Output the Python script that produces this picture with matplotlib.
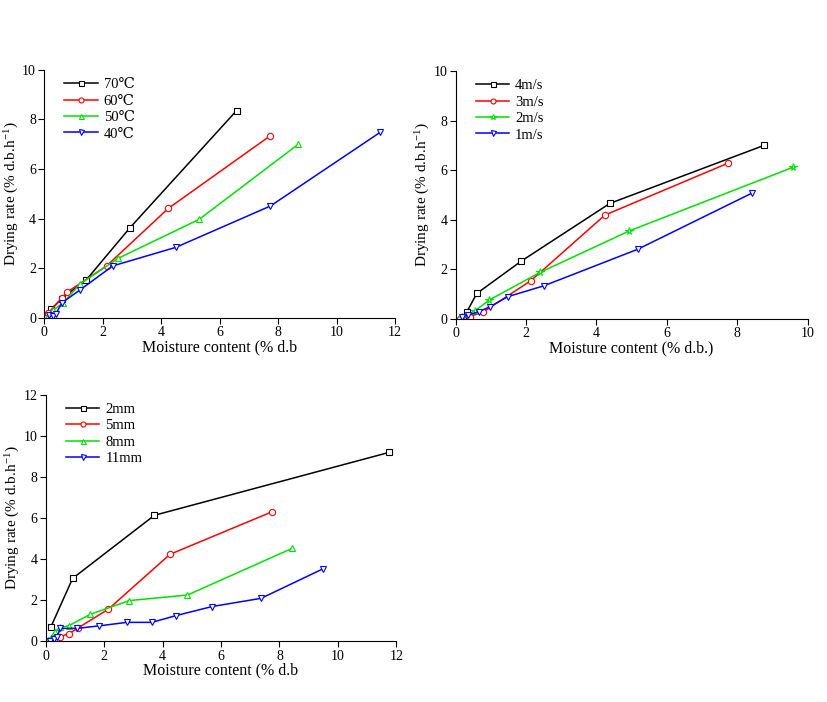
import numpy as np
import matplotlib
matplotlib.use("Agg")
import matplotlib.pyplot as plt

plt.rcParams['font.family'] = ['Liberation Serif', 'DejaVu Serif', 'DejaVu Sans']
plt.rcParams['mathtext.fontset'] = 'stix'

# temperature series (moisture content, drying rate)
temp_labels = ['70℃', '60℃', '50℃', '40℃']
t70_x = [0.05, 0.23, 0.59, 1.43, 2.93, 6.58]
t70_y = [0.0, 0.34, 0.77, 1.52, 3.63, 8.36]
t60_x = [0.05, 0.14, 0.60, 0.76, 2.13, 4.24, 7.74]
t60_y = [0.0, 0.20, 0.78, 1.02, 2.09, 4.41, 7.35]
t50_x = [0.08, 0.31, 0.65, 1.22, 2.53, 5.30, 8.69]
t50_y = [0.0, 0.31, 0.60, 1.36, 2.40, 3.97, 7.00]
t40_x = [0.17, 0.30, 0.40, 0.60, 1.22, 2.34, 4.50, 7.74, 11.49]
t40_y = [0.10, 0.08, 0.17, 0.60, 1.12, 2.09, 2.84, 4.51, 7.48]

# air velocity series
vel_labels = ['4m/s', '3m/s', '2m/s', '1m/s']
v4_x = [0.20, 0.31, 0.60, 1.86, 4.38, 8.76]
v4_y = [0.05, 0.27, 1.03, 2.33, 4.66, 7.00]
v3_x = [0.12, 0.40, 0.77, 2.14, 4.24, 7.75]
v3_y = [0.0, 0.10, 0.27, 1.55, 4.19, 6.29]
v2_x = [0.17, 0.55, 0.96, 2.40, 4.93, 9.59]
v2_y = [0.07, 0.33, 0.77, 1.88, 3.55, 6.12]
v1_x = [0.17, 0.35, 0.67, 0.98, 1.48, 2.51, 5.17, 8.41]
v1_y = [0.10, 0.15, 0.30, 0.50, 0.90, 1.34, 2.81, 5.07]

# slice thickness series
thk_labels = ['2mm', '5mm', '8mm', '11mm']
d2_x = [0.18, 0.92, 3.72, 11.75]
d2_y = [0.71, 3.06, 6.13, 9.19]
d5_x = [0.09, 0.49, 0.78, 1.12, 2.14, 4.25, 7.76]
d5_y = [0.0, 0.23, 0.36, 0.66, 1.56, 4.23, 6.31]
d8_x = [0.09, 0.32, 0.49, 0.78, 1.52, 2.86, 4.85, 8.43]
d8_y = [0.06, 0.47, 0.68, 0.75, 1.31, 1.98, 2.25, 4.52]
d11_x = [0.15, 0.30, 0.40, 0.49, 1.08, 1.83, 2.77, 3.63, 4.46, 5.69, 7.37, 9.48]
d11_y = [0.0, 0.10, 0.23, 0.63, 0.63, 0.75, 0.92, 0.92, 1.25, 1.69, 2.09, 3.52]

colors = ['black', 'red', '#00e000', 'blue']

fig = plt.figure(figsize=(8.27, 7.02), dpi=100)
ax1 = fig.add_axes([0.0536, 0.5474, 0.424, 0.353])
ax2 = fig.add_axes([0.551, 0.5456, 0.4256, 0.3533])
ax3 = fig.add_axes([0.0553, 0.0865, 0.424, 0.3513])


def draw(ax, series, labels, markers, xlim, ylim, xlabel):
    for (x, y), lab, mk, c in zip(series, labels, markers, colors):
        ms = 5.5 if mk == '*' else 4.5
        ax.plot(x, y, color=c, marker=mk, ms=ms, mfc='white', mec=c,
                mew=0.8, lw=1.1, label=lab)
    ax.set_xlim(*xlim)
    ax.set_ylim(*ylim)
    ax.set_xticks(np.arange(xlim[0], xlim[1] + 0.1, 2))
    ax.set_yticks(np.arange(ylim[0], ylim[1] + 0.1, 2))
    for s in ['top', 'right']:
        ax.spines[s].set_visible(False)
    ax.tick_params(direction='out', length=4, width=0.8, labelsize=10, pad=2)
    ax.set_xlabel(xlabel, fontsize=11.5, labelpad=0)
    ax.set_ylabel('Drying rate (% d.b.h$^{\\mathregular{-1}}$)', fontsize=11, labelpad=1)
    ax.yaxis.set_label_coords(-0.07, 0.5)
    ax.legend(loc='upper left', bbox_to_anchor=(0.02, 1.02), frameon=False,
              fontsize=10.5, handlelength=2.3, labelspacing=0.22, handletextpad=0.4,
              markerscale=0.8)


draw(ax1, [(t70_x, t70_y), (t60_x, t60_y), (t50_x, t50_y), (t40_x, t40_y)],
     temp_labels, ['s', 'o', '^', 'v'], (0, 12), (0, 10), 'Moisture content (% d.b')
draw(ax2, [(v4_x, v4_y), (v3_x, v3_y), (v2_x, v2_y), (v1_x, v1_y)],
     vel_labels, ['s', 'o', '*', 'v'], (0, 10), (0, 10), 'Moisture content (% d.b.)')
draw(ax3, [(d2_x, d2_y), (d5_x, d5_y), (d8_x, d8_y), (d11_x, d11_y)],
     thk_labels, ['s', 'o', '^', 'v'], (0, 12), (0, 12), 'Moisture content (% d.b')

fig.savefig('out.png', dpi=100)
